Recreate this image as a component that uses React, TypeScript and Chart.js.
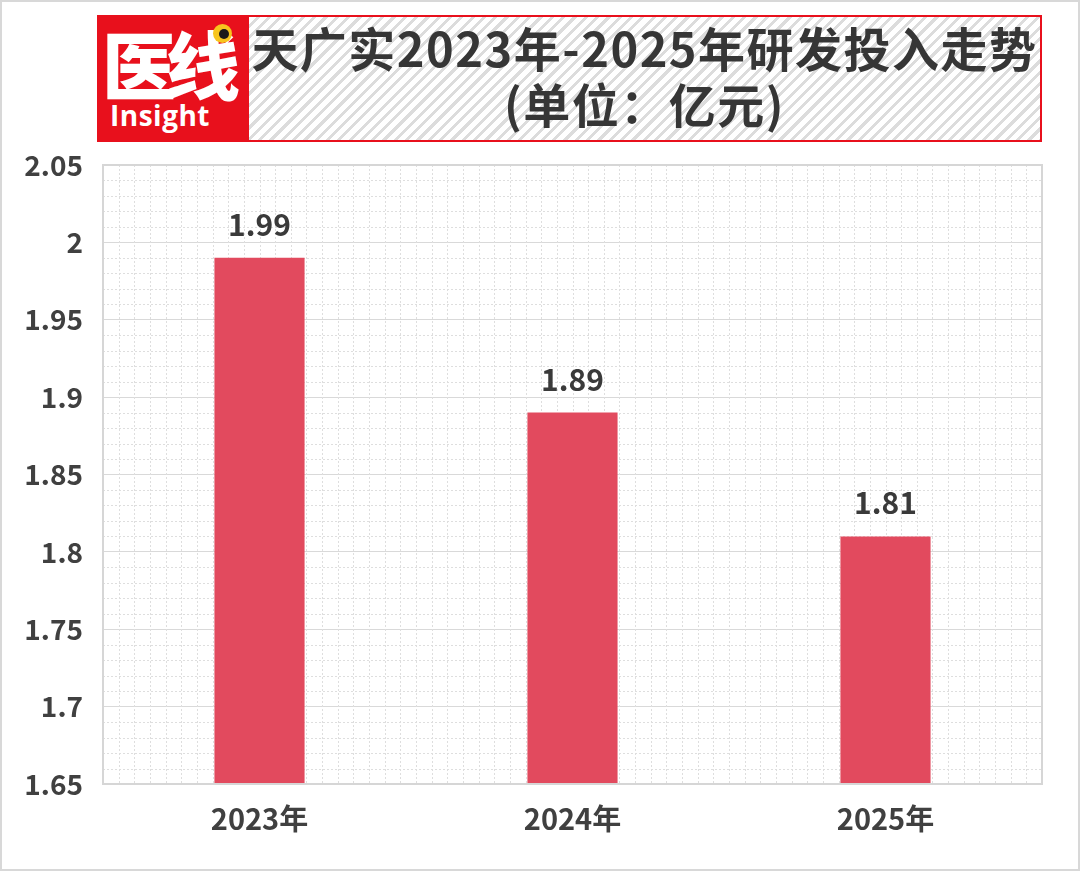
import { useEffect, useRef } from "react";
import { Chart, registerables } from "chart.js";

Chart.register(...registerables);

const years = ["2023年", "2024年", "2025年"];
const rdSpend = [1.99, 1.89, 1.81];
const yMin = 1.65;
const yMax = 2.05;
const yStep = 0.05;
const minorStep = 0.01;
const minorPerCategory = 20;

const titleLine1 = "天广实2023年-2025年研发投入走势";
const titleLine2 = "(单位：亿元)";

const FONT = "'Noto Sans CJK SC', 'Noto Sans', sans-serif";

// dotted minor grid + plot frame
const minorGrid = {
  id: "minorGrid",
  beforeDatasetsDraw(chart: any) {
    const { ctx, chartArea, scales } = chart;
    const y = scales.y;
    ctx.save();
    ctx.strokeStyle = "#dedede";
    ctx.lineWidth = 1;
    ctx.setLineDash([2, 2]);
    const n = Math.round((yMax - yMin) / minorStep);
    for (let i = 1; i < n; i++) {
      if (i % 5 === 0) continue;
      const py = Math.round(y.getPixelForValue(yMin + i * minorStep)) + 0.5;
      ctx.beginPath();
      ctx.moveTo(chartArea.left, py);
      ctx.lineTo(chartArea.right, py);
      ctx.stroke();
    }
    const cols = years.length * minorPerCategory;
    const w = (chartArea.right - chartArea.left) / cols;
    for (let i = 1; i < cols; i++) {
      const px = Math.round(chartArea.left + i * w) + 0.5;
      ctx.beginPath();
      ctx.moveTo(px, chartArea.top);
      ctx.lineTo(px, chartArea.bottom);
      ctx.stroke();
    }
    ctx.restore();
  },
  afterDraw(chart: any) {
    const { ctx, chartArea } = chart;
    ctx.save();
    ctx.strokeStyle = "#d6d6d6";
    ctx.lineWidth = 2;
    ctx.strokeRect(
      chartArea.left,
      chartArea.top,
      chartArea.right - chartArea.left,
      chartArea.bottom - chartArea.top
    );
    ctx.restore();
  },
};

const valueLabels = {
  id: "valueLabels",
  afterDatasetsDraw(chart: any) {
    const { ctx } = chart;
    const meta = chart.getDatasetMeta(0);
    ctx.save();
    ctx.font = `bold 30px ${FONT}`;
    ctx.fillStyle = "#3a3a3a";
    ctx.textAlign = "center";
    ctx.textBaseline = "alphabetic";
    meta.data.forEach((bar: any, i: number) => {
      ctx.fillText(String(rdSpend[i]), bar.x, bar.y - 22);
    });
    ctx.restore();
  },
};

function RdChart() {
  const canvasRef = useRef<HTMLCanvasElement | null>(null);

  useEffect(() => {
    const ctx = canvasRef.current?.getContext("2d");
    if (!ctx) return;

    const chart = new Chart(ctx, {
      type: "bar",
      data: {
        labels: years,
        datasets: [
          {
            data: rdSpend,
            backgroundColor: "#e24a5e",
            categoryPercentage: 1,
            barPercentage: 0.288,
          },
        ],
      },
      options: {
        responsive: false,
        animation: false,
        layout: { padding: { top: 165, right: 38, left: 0, bottom: 0 } },
        plugins: {
          legend: { display: false },
          tooltip: { enabled: false },
        },
        scales: {
          x: {
            grid: { display: false, drawTicks: false },
            border: { display: false },
            ticks: {
              color: "#404040",
              font: { family: FONT, size: 29, weight: "bold" },
              padding: 18,
            },
            afterFit: (scale: any) => {
              scale.height = 87;
            },
          },
          y: {
            min: yMin,
            max: yMax,
            grid: { color: "#d9d9d9", lineWidth: 1, drawTicks: false },
            border: { display: false },
            ticks: {
              stepSize: yStep,
              color: "#404040",
              font: { family: FONT, size: 28, weight: "bold" },
              padding: 20,
              callback: (v: any) => String(Number(Number(v).toFixed(2))),
            },
            afterFit: (scale: any) => {
              scale.width = 103;
            },
          },
        },
      },
      plugins: [minorGrid, valueLabels],
    });

    return () => {
      chart.destroy();
    };
  }, []);

  return (
    <canvas
      ref={canvasRef}
      width={1080}
      height={871}
      style={{ position: "absolute", left: 0, top: 0 }}
    ></canvas>
  );
}

function Logo() {
  return (
    <div
      style={{
        position: "absolute",
        left: 97,
        top: 15,
        width: 150,
        height: 127,
        background: "#e8101c",
        overflow: "hidden",
      }}
    >
      <div
        style={{
          position: "absolute",
          left: 5,
          top: 2,
          color: "#fff",
          fontFamily: FONT,
          fontWeight: 900,
          fontSize: 74,
          lineHeight: "90px",
          letterSpacing: -10,
        }}
      >
        医线
      </div>
      <div
        style={{
          position: "absolute",
          left: 13,
          top: 81,
          color: "#fff",
          fontFamily: "'Open Sans', 'Noto Sans', sans-serif",
          fontWeight: 700,
          fontSize: 28,
          lineHeight: "38px",
          letterSpacing: 0.5,
        }}
      >
        Insight
      </div>
      <div
        style={{
          position: "absolute",
          left: 116,
          top: 9,
          width: 19,
          height: 19,
          borderRadius: "50%",
          background: "#f7c51e",
        }}
      >
        <div
          style={{
            position: "absolute",
            left: 6,
            top: 5,
            width: 10,
            height: 10,
            borderRadius: "50%",
            background: "#1a1a1a",
          }}
        ></div>
      </div>
    </div>
  );
}

function TitleBox() {
  return (
    <div
      style={{
        position: "absolute",
        left: 247,
        top: 15,
        width: 795,
        height: 127,
        boxSizing: "border-box",
        border: "2px solid #e8101c",
        background:
          "repeating-linear-gradient(135deg, #ffffff 0px, #ffffff 5px, #dcdcdc 5px, #dcdcdc 8px)",
        color: "#363636",
        fontFamily: FONT,
        fontWeight: 700,
        fontSize: 47,
        letterSpacing: 1.5,
        textAlign: "center",
      }}
    >
      <div style={{ position: "absolute", left: 0, right: 0, top: -1, lineHeight: "62px" }}>
        {titleLine1}
      </div>
      <div style={{ position: "absolute", left: 0, right: 0, top: 55, lineHeight: "62px" }}>
        {titleLine2}
      </div>
    </div>
  );
}

export default function App() {
  return (
    <div
      style={{
        position: "absolute",
        left: 0,
        top: 0,
        width: 1080,
        height: 871,
        background: "#ffffff",
        overflow: "hidden",
      }}
    >
      <RdChart />
      <Logo />
      <TitleBox />
      <div
        style={{
          position: "absolute",
          inset: 0,
          border: "2px solid #d8d8d8",
          pointerEvents: "none",
        }}
      ></div>
    </div>
  );
}
